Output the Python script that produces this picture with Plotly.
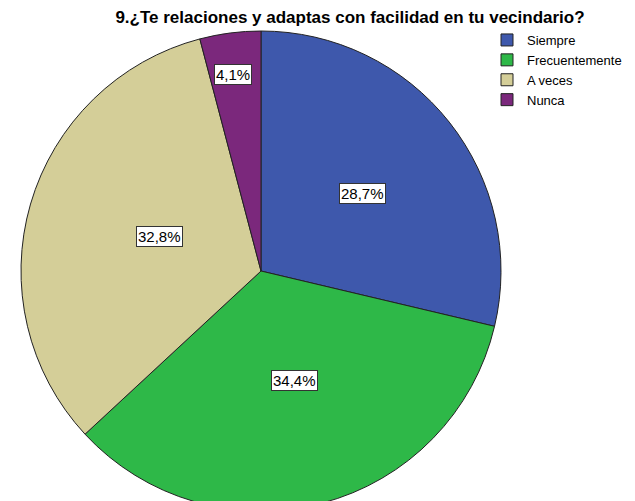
import math
import plotly.graph_objects as go

# datos
categorias = ["Siempre", "Frecuentemente", "A veces", "Nunca"]
porcentajes = [28.7, 34.4, 32.8, 4.1]
colores = ["#3E58AC", "#2EB848", "#D4CE98", "#7B287C"]

# la página añade 8 px de margen, así que todo va desplazado 8 px
W, H = 660, 512
cx, cy, R = 253, 263, 240   # centro y radio del pastel en píxeles de la figura
lab_rx, lab_ry = 245, 235   # el original es algo elíptico: radios para las etiquetas

fig = go.Figure()

fig.add_trace(go.Pie(
    labels=categorias,
    values=porcentajes,
    sort=False,
    direction="clockwise",
    rotation=0,
    textinfo="none",
    hoverinfo="label+percent",
    marker=dict(colors=colores, line=dict(color="#222222", width=1)),
    domain=dict(x=[(cx - R) / W, (cx + R) / W], y=[1 - (cy + R) / H, 1 - (cy - R) / H]),
))

# etiquetas con recuadro blanco, colocadas a partir de los valores
acum = 0
total = sum(porcentajes)
for v in porcentajes:
    mid = (acum + v / 2) / total * 2 * math.pi
    acum += v
    frac = 0.53 if v / total > 0.1 else 0.89
    px_x = cx + frac * lab_rx * math.sin(mid)
    px_y = cy - frac * lab_ry * math.cos(mid)
    fig.add_annotation(
        x=px_x / W, y=1 - px_y / H, xref="paper", yref="paper",
        text=f"{v:.1f}%".replace(".", ","),
        showarrow=False,
        font=dict(family="Liberation Sans, Arial", size=15, color="black"),
        bgcolor="white", bordercolor="#333333", borderwidth=1, borderpad=1,
    )

fig.update_layout(
    width=W, height=H,
    margin=dict(l=0, r=0, t=0, b=0),
    paper_bgcolor="white",
    font=dict(family="Liberation Sans, Arial", size=13, color="black"),
    title=dict(
        text="<b>9.¿Te relaciones y adaptas con facilidad en tu vecindario?</b>",
        x=342 / W, xanchor="center", y=1 - 9 / H, yanchor="middle",
        yref="container", font=dict(size=17, color="black"),
    ),
    legend=dict(
        x=479 / W, y=1 - 17 / H, xanchor="left", yanchor="top",
        font=dict(size=13), itemwidth=30, bgcolor="rgba(0,0,0,0)",
        tracegroupgap=0,
    ),
)

fig.write_html("out.html")
